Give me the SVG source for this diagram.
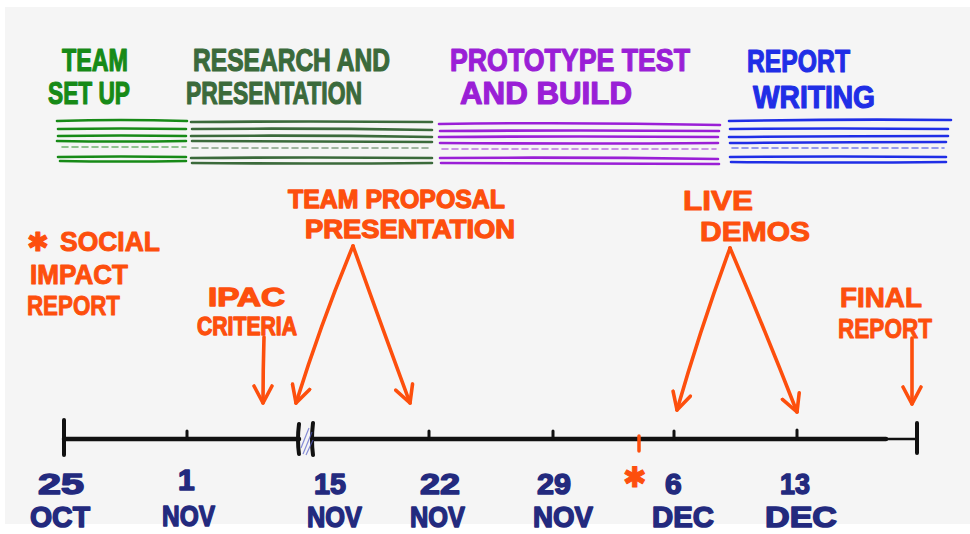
<svg xmlns="http://www.w3.org/2000/svg" width="970" height="534" viewBox="0 0 970 534">
  <style>
    .hand { font-family: "Liberation Sans", "DejaVu Sans", sans-serif; font-weight: bold; stroke-linejoin: round; }
    .hdr { font-size: 31px; stroke-width: 1.2px; }
    .lbl { font-size: 28px; stroke-width: 1px; fill: #fd4f0d; stroke: #fd4f0d; }
    .lbl.tight { font-size: 26px; stroke-width: 1.3px; }
    .star { font-family: "DejaVu Sans", sans-serif; font-weight: normal; }
    .date { font-size: 30px; stroke-width: 1.5px; fill: #232a7e; stroke: #232a7e; }
    .g1 { fill: #178a17; stroke: #178a17; }
    .g2 { fill: #3b6a3b; stroke: #3b6a3b; }
    .g3 { fill: #9a1fd6; stroke: #9a1fd6; }
    .g4 { fill: #1f2ee6; stroke: #1f2ee6; }
    .bar { fill: none; stroke-width: 2.6px; stroke-linecap: round; }
    .faint { stroke-width: 1.6px; stroke-dasharray: 6 4; opacity: 0.6; }
    .arrow { fill: none; stroke: #fd4f0d; stroke-width: 3.6px; stroke-linecap: round; stroke-linejoin: round; marker-end: url(#head); }
    .axis { fill: none; stroke: #111; stroke-linecap: round; }
  </style>
  <defs>
    <marker id="head" viewBox="0 0 22 22" refX="19" refY="11" markerWidth="22" markerHeight="22" markerUnits="userSpaceOnUse" orient="auto">
      <path d="M2,2 L19,11 L2,20" fill="none" stroke="#fd4f0d" stroke-width="3.6" stroke-linecap="round" stroke-linejoin="round"/>
    </marker>
  </defs>

  <!-- paper -->
  <rect x="0" y="0" width="970" height="534" fill="#ffffff"/>
  <rect x="5" y="7" width="965" height="517" fill="#f5f5f5"/>

  <!-- phase headings with their hatched bars -->
  <g id="phase-team-setup">
    <text class="hand hdr g1" x="62" y="71" textLength="66" lengthAdjust="spacingAndGlyphs">TEAM</text>
    <text class="hand hdr g1" x="48" y="104" textLength="82" lengthAdjust="spacingAndGlyphs">SET UP</text>
    <path class="bar g1" d="M57 121 Q120 119 187 121 M58 129 Q120 128 186 129 M58 136 Q120 135 186 136 M57 141 Q120 142 186 141 M58 157 Q120 156 186 157 M60 161 Q120 162 186 161"/>
    <path class="bar g1 faint" d="M62 147 L186 147"/>
  </g>

  <g id="phase-research">
    <text class="hand hdr g2" x="193" y="71" textLength="197" lengthAdjust="spacingAndGlyphs">RESEARCH AND</text>
    <text class="hand hdr g2" x="186" y="104" textLength="176" lengthAdjust="spacingAndGlyphs">PRESENTATION</text>
    <path class="bar g2" d="M191 122 Q310 121 432 122 M192 129 Q310 128 432 130 M191 136 Q310 135 432 137 M192 141 Q310 142 432 142 M191 158 Q310 157 432 158 M192 163 Q310 164 432 163"/>
    <path class="bar g2 faint" d="M192 148 L432 148"/>
  </g>

  <g id="phase-prototype">
    <text class="hand hdr g3" x="450" y="71" textLength="240" lengthAdjust="spacingAndGlyphs">PROTOTYPE TEST</text>
    <text class="hand hdr g3" x="460" y="104" textLength="172" lengthAdjust="spacingAndGlyphs">AND BUILD</text>
    <path class="bar g3" d="M439 124 Q580 122 720 125 M440 131 Q580 130 719 131 M439 137 Q580 136 718 137 M440 143 Q580 144 718 143 M440 158 Q580 157 718 159 M441 163 Q580 164 719 164"/>
    <path class="bar g3 faint" d="M442 149 L716 149"/>
  </g>

  <g id="phase-report-writing">
    <text class="hand hdr g4" x="747" y="72" textLength="103" lengthAdjust="spacingAndGlyphs">REPORT</text>
    <text class="hand hdr g4" x="753" y="108" textLength="122" lengthAdjust="spacingAndGlyphs">WRITING</text>
    <path class="bar g4" d="M729 121 Q840 119 951 120 M730 129 Q840 128 948 129 M729 137 Q840 136 948 136 M730 143 Q840 142 946 142 M730 157 Q840 156 946 157 M731 162 Q840 163 946 162"/>
    <path class="bar g4 faint" d="M732 148 L944 148"/>
  </g>

  <!-- event labels -->
  <g id="social-impact">
    <text class="hand lbl" x="27" y="251"><tspan class="star" font-size="26">✱</tspan><tspan x="60" textLength="100" lengthAdjust="spacingAndGlyphs">SOCIAL</tspan></text>
    <text class="hand lbl" x="30" y="284" textLength="98" lengthAdjust="spacingAndGlyphs">IMPACT</text>
    <text class="hand lbl" x="27" y="315" textLength="93" lengthAdjust="spacingAndGlyphs">REPORT</text>
  </g>

  <g id="ipac-criteria">
    <text class="hand lbl tight" x="208" y="306" textLength="77" lengthAdjust="spacingAndGlyphs">IPAC</text>
    <text class="hand lbl tight" x="197" y="335" textLength="100" lengthAdjust="spacingAndGlyphs">CRITERIA</text>
  </g>

  <g id="team-proposal">
    <text class="hand lbl tight" x="288" y="208" textLength="217" lengthAdjust="spacingAndGlyphs">TEAM PROPOSAL</text>
    <text class="hand lbl tight" x="305" y="238" textLength="210" lengthAdjust="spacingAndGlyphs">PRESENTATION</text>
  </g>

  <g id="live-demos">
    <text class="hand lbl" x="683" y="210" textLength="70" lengthAdjust="spacingAndGlyphs">LIVE</text>
    <text class="hand lbl" x="700" y="241" textLength="110" lengthAdjust="spacingAndGlyphs">DEMOS</text>
  </g>

  <g id="final-report">
    <text class="hand lbl" x="840" y="307" textLength="82" lengthAdjust="spacingAndGlyphs">FINAL</text>
    <text class="hand lbl" x="838" y="338" textLength="94" lengthAdjust="spacingAndGlyphs">REPORT</text>
  </g>

  <!-- arrows from events down to the timeline -->
  <g id="connectors">
    <path class="arrow" d="M264 337 Q263 370 263 403"/>
    <path class="arrow" d="M353 246 Q322 320 296 403"/>
    <path class="arrow" d="M353 246 Q383 330 410 403"/>
    <path class="arrow" d="M730 248 Q700 330 677 410"/>
    <path class="arrow" d="M730 248 Q765 330 797 412"/>
    <path class="arrow" d="M912 338 Q912 372 912 404"/>
  </g>

  <!-- timeline axis -->
  <g id="timeline">
    <path class="axis" stroke-width="4.5" d="M64 439 H299 M313 439 H886"/>
    <path class="axis" stroke-width="2.5" d="M886 439 H917"/>
    <path class="axis" stroke-width="4" d="M64 420 V455 M917 423 V453 M299 424 Q297 440 299 454 M313 423 Q311 440 313 455"/>
    <path class="axis" stroke-width="3" d="M187 431 V439 M429 431 V439 M553 431 V439 M674 431 V439 M797 430 V439"/>
    <path fill="none" stroke="#5560c8" stroke-width="1.2" opacity="0.7" d="M301 448 L309 428 M303 454 L312 432 M306 455 L313 440"/>
    <path fill="none" stroke="#fd4f0d" stroke-width="3.5" stroke-linecap="round" d="M639 436 V451"/>
  </g>

  <!-- dates -->
  <g id="date-25-oct">
    <text class="hand date" x="38" y="494" textLength="46" lengthAdjust="spacingAndGlyphs">25</text>
    <text class="hand date" x="30" y="527" textLength="60" lengthAdjust="spacingAndGlyphs">OCT</text>
  </g>
  <g id="date-1-nov">
    <text class="hand date" x="178" y="490">1</text>
    <text class="hand date" x="162" y="526" textLength="53" lengthAdjust="spacingAndGlyphs">NOV</text>
  </g>
  <g id="date-15-nov">
    <text class="hand date" x="314" y="494" textLength="32" lengthAdjust="spacingAndGlyphs">15</text>
    <text class="hand date" x="307" y="527" textLength="55" lengthAdjust="spacingAndGlyphs">NOV</text>
  </g>
  <g id="date-22-nov">
    <text class="hand date" x="420" y="494" textLength="40" lengthAdjust="spacingAndGlyphs">22</text>
    <text class="hand date" x="410" y="527" textLength="55" lengthAdjust="spacingAndGlyphs">NOV</text>
  </g>
  <g id="date-29-nov">
    <text class="hand date" x="537" y="494" textLength="34" lengthAdjust="spacingAndGlyphs">29</text>
    <text class="hand date" x="533" y="527" textLength="60" lengthAdjust="spacingAndGlyphs">NOV</text>
  </g>
  <g id="date-6-dec">
    <text class="hand lbl star" x="623" y="487" font-size="24">✱</text>
    <text class="hand date" x="665" y="494">6</text>
    <text class="hand date" x="652" y="527" textLength="62" lengthAdjust="spacingAndGlyphs">DEC</text>
  </g>
  <g id="date-13-dec">
    <text class="hand date" x="780" y="494" textLength="30" lengthAdjust="spacingAndGlyphs">13</text>
    <text class="hand date" x="765" y="527" textLength="72" lengthAdjust="spacingAndGlyphs">DEC</text>
  </g>
</svg>
